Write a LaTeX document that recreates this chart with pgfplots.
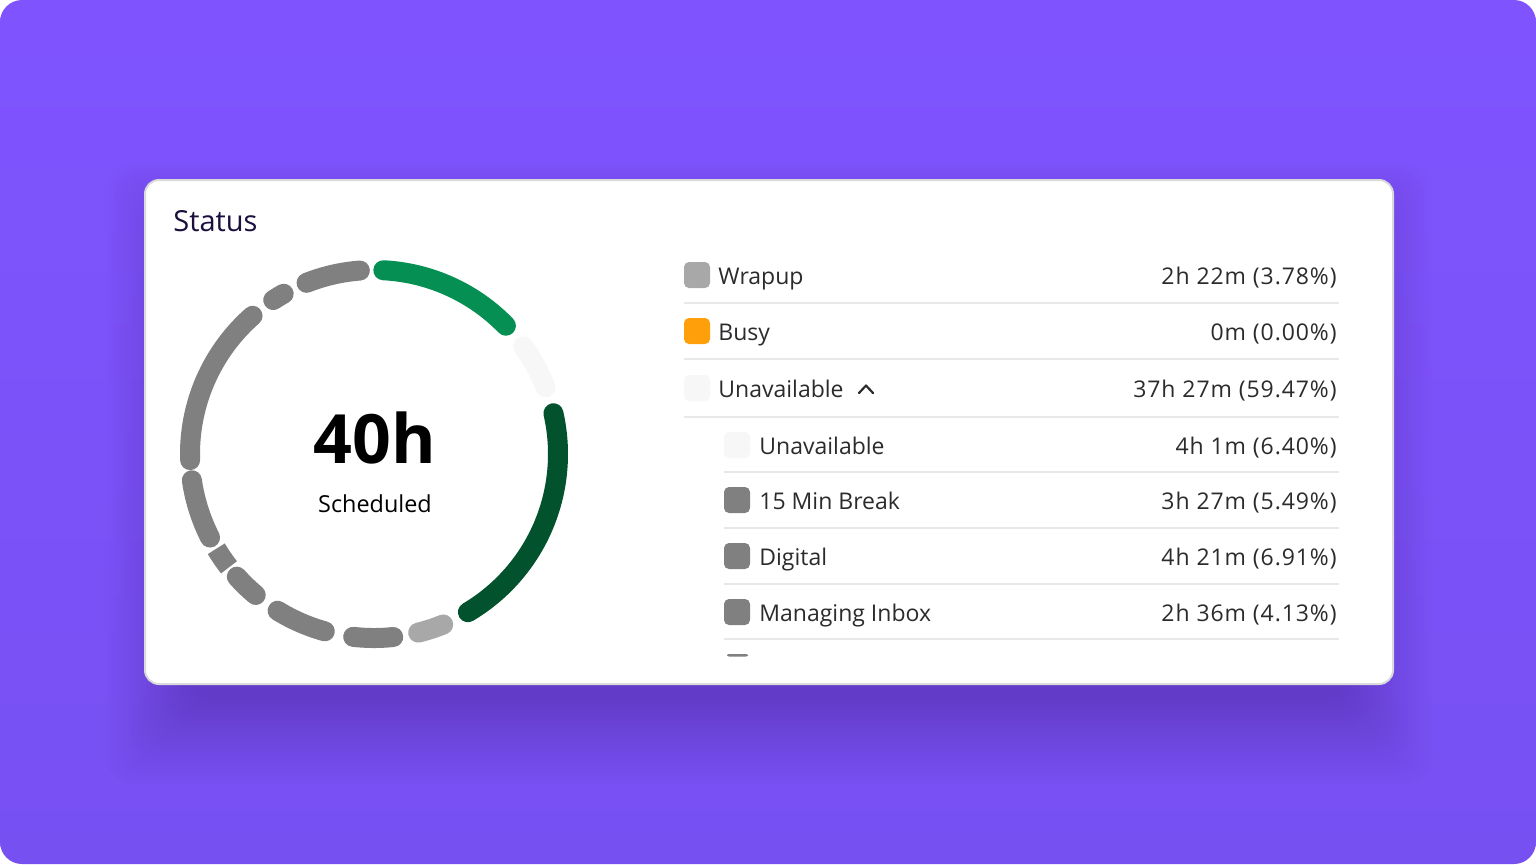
\documentclass[border=0pt]{standalone}
\usepackage{pgfplots}
\pgfplotsset{compat=1.18}
\usepgfplotslibrary{polar}
\usepackage{fontspec}
\setmainfont{Open Sans}
\definecolor{bgpurple}{HTML}{7F54FF}
\definecolor{bgpurple2}{HTML}{7750F2}
\definecolor{cardborder}{HTML}{DADADA}
\definecolor{titlecol}{HTML}{1C0F3D}
\definecolor{txt}{HTML}{2B2B2E}
\definecolor{sep}{HTML}{E8E8E8}
\definecolor{cgreen}{HTML}{058F52}
\definecolor{cdark}{HTML}{02522E}
\definecolor{clight}{HTML}{F7F7F7}
\definecolor{cwrap}{HTML}{A8A8A8}
\definecolor{cgray}{HTML}{808080}
\definecolor{cbusy}{HTML}{FF9F0A}
\begin{document}
\begin{tikzpicture}
% ---------- background & card (px units, y downward) ----------
\begin{scope}[x=0.5pt,y=-0.5pt]
  \fill[white] (0,0) rectangle (1536,864);
  \shade[top color=bgpurple, bottom color=bgpurple2, rounded corners=11pt] (0,0) rectangle (1536,864);
  % soft shadow
  \foreach \k in {0,...,21}{
    \fill[black, opacity=0.0085, rounded corners=14pt]
      ({190-4*\k},{245-4*\k}) rectangle ({1348+4*\k},{700+4*\k});
  }
  \fill[white, draw=cardborder, line width=1pt, rounded corners=7pt] (145,180) rectangle (1393,684);
  % title
  \node[anchor=base west, inner sep=0, font=\fontsize{14.5}{16}\selectfont, text=titlecol] at (173,231) {Status};
  % centre text
  \node[anchor=base, inner sep=0, font=\fontsize{34}{38}\selectfont\bfseries, text=black] at (375,463) {40h};
  \node[anchor=base, inner sep=0, font=\fontsize{11.7}{14}\selectfont, text=black] at (375,512) {Scheduled};
  % legend rows
  \tikzset{lt/.style={anchor=base west, inner sep=0, font=\fontsize{11.5}{14}\selectfont, text=txt},
           lv/.style={anchor=base east, inner sep=0, font=\fontsize{11.5}{14}\selectfont\addfontfeatures{LetterSpace=4}, text=txt}}
  % row 1
  \fill[cwrap, rounded corners=2.5pt] (684,262) rectangle (710,288);
  \node[lt] at (718,284) {Wrapup};
  \node[lv] at (1337,284) {2h 22m (3.78\%)};
  \draw[sep, line width=1pt] (684,303) -- (1339,303);
  % row 2
  \fill[cbusy, rounded corners=2.5pt] (684,318) rectangle (710,344);
  \node[lt] at (718,340) {Busy};
  \node[lv] at (1337,340) {0m (0.00\%)};
  \draw[sep, line width=1pt] (684,359) -- (1339,359);
  % row 3
  \fill[clight, rounded corners=2.5pt] (684,375) rectangle (710,401);
  \node[lt] at (718,397) {Unavailable};
  \draw[txt, line width=1.1pt, line cap=round, line join=round] (859,393) -- (866,385.5) -- (873,393);
  \node[lv] at (1337,397) {37h 27m (59.47\%)};
  \draw[sep, line width=1pt] (684,417) -- (1339,417);
  % row 4
  \fill[clight, rounded corners=2.5pt] (724,432) rectangle (750,458);
  \node[lt] at (759,454) {Unavailable};
  \node[lv] at (1337,454) {4h 1m (6.40\%)};
  \draw[sep, line width=1pt] (724,472) -- (1339,472);
  % row 5
  \fill[cgray, rounded corners=2.5pt] (724,487) rectangle (750,513);
  \node[lt] at (759,509) {15 Min Break};
  \node[lv] at (1337,509) {3h 27m (5.49\%)};
  \draw[sep, line width=1pt] (724,528) -- (1339,528);
  % row 6
  \fill[cgray, rounded corners=2.5pt] (724,543) rectangle (750,569);
  \node[lt] at (759,565) {Digital};
  \node[lv] at (1337,565) {4h 21m (6.91\%)};
  \draw[sep, line width=1pt] (724,584) -- (1339,584);
  % row 7
  \fill[cgray, rounded corners=2.5pt] (724,599) rectangle (750,625);
  \node[lt] at (759,621) {Managing Inbox};
  \node[lv] at (1337,621) {2h 36m (4.13\%)};
  \draw[sep, line width=1pt] (724,639) -- (1339,639);
  % row 8 (cut off)
  \fill[cgray, rounded corners=1pt] (727,654) rectangle (748,656.5);
\end{scope}
% ---------- donut ----------
\begin{polaraxis}[
  at={(187pt,-227pt)}, anchor=origin,
  hide axis, scale only axis, width=200pt, height=200pt,
  xmin=0, xmax=360, ymin=0, ymax=200, clip=false,
  every axis plot/.append style={samples=60, line width=10pt, line cap=round, no marks}
]
  % start/end angles (deg, counter-clockwise from east) and radius 184 px
  \addplot[cgreen, domain=44.2:87.1] {184};
  \addplot[clight, domain=21.3:35.8] {184};
  \addplot[cdark, domain=-59.3:12.8] {184};
  \addplot[cwrap, domain=-76.1:-67.9] {184};
  \addplot[cgray, domain=-96.5:-84.0] {184};
  \addplot[cgray, domain=-121.6:-105.5] {184};
  \addplot[cgray, domain=-138.2:-130.0] {184};
  \addplot[cgray, domain=-149.0:-142.0, line cap=butt] {184};
  \addplot[cgray, domain=-171.8:-153.0] {184};
  \addplot[cgray, domain=131.3:181.9] {184};
  \addplot[cgray, domain=119.4:123.2] {184};
  \addplot[cgray, domain=94.4:111.5] {184};
\end{polaraxis}
\end{tikzpicture}
\end{document}
